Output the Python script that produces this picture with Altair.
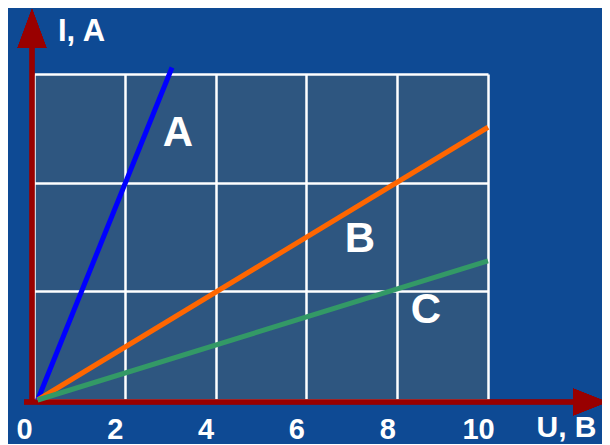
import altair as alt
import pandas as pd

# Data (U in volts, I in amperes)
series = ["A", "A", "B", "B", "C", "C"]
u_vals = [0.08, 3.04, 0.08, 10.0, 0.08, 10.0]
i_vals = [0.0, 3.06, 0.0, 2.51, 0.0, 1.28]

label_names = ["A", "B", "C"]
label_u = [3.17, 7.18, 8.63]
label_i = [2.46, 1.48, 0.83]

x_ticks = [0, 2, 4, 6, 8, 10]
y_grid = [0, 1, 2, 3]

line_colors = ["#0000ff", "#ff6600", "#339966"]

lines_df = pd.DataFrame({"series": series, "U": u_vals, "I": i_vals})
labels_df = pd.DataFrame({"name": label_names, "U": label_u, "I": label_i})

W, H = 454, 326
FONT = "Liberation Sans"
RED = "#990000"

xscale = alt.Scale(domain=[0, 10], nice=False, zero=False)
yscale = alt.Scale(domain=[0, 3], nice=False, zero=False)

x_axis = alt.Axis(
    values=x_ticks, grid=True, gridColor="white", gridWidth=2.5, gridOpacity=1,
    ticks=False, tickSize=0, domain=False,
    labelColor="white", labelFont=FONT, labelFontSize=29, labelFontWeight="bold",
    labelBaseline="alphabetic", labelPadding=38, labelOffset=-10,
    labelFlush=False, labelOverlap=False,
    title="U, B", titleColor="white", titleFont=FONT, titleFontSize=30,
    titleFontWeight="bold", titleX=532, titleY=27, titleAlign="center",
    titleBaseline="middle", titleAngle=0,
)
y_axis = alt.Axis(
    values=y_grid, grid=True, gridColor="white", gridWidth=2.5, gridOpacity=1,
    ticks=False, tickSize=0, domain=False, labels=False,
    title="I, A", titleColor="white", titleFont=FONT, titleFontSize=31,
    titleFontWeight="bold", titleX=47, titleY=-43, titleAlign="center",
    titleBaseline="middle", titleAngle=0,
)

lines = alt.Chart(lines_df).mark_line(strokeWidth=5, clip=False).encode(
    x=alt.X("U:Q", scale=xscale, axis=x_axis),
    y=alt.Y("I:Q", scale=yscale, axis=y_axis),
    color=alt.Color("series:N", scale=alt.Scale(domain=label_names, range=line_colors), legend=None),
    detail="series:N",
)

labels = alt.Chart(labels_df).mark_text(
    font=FONT, fontSize=42, fontWeight="bold", color="white",
    align="center", baseline="middle",
).encode(
    x=alt.X("U:Q", scale=xscale),
    y=alt.Y("I:Q", scale=yscale),
    text="name:N",
)

# Decorative red axes with arrowheads
v_axis_line = alt.Chart(lines_df).mark_rule(color=RED, strokeWidth=4.5).encode(
    x=alt.value(-2), y=alt.value(-28), y2=alt.value(H + 4)
)
h_axis_line = alt.Chart(lines_df).mark_rule(color=RED, strokeWidth=4.5).encode(
    x=alt.value(-10), x2=alt.value(542), y=alt.value(H + 2)
)
v_arrow = alt.Chart(lines_df).mark_point(
    shape="M-0.74,1L0,-1L0.74,1Z", filled=True, color=RED, opacity=1, size=1521
).encode(x=alt.value(-2), y=alt.value(-45.5))
h_arrow = alt.Chart(lines_df).mark_point(
    shape="M-1,-0.8L1,0L-1,0.8Z", filled=True, color=RED, opacity=1, size=1156
).encode(x=alt.value(556), y=alt.value(H + 2))

chart = alt.layer(
    v_axis_line, h_axis_line, lines, labels, v_arrow, h_arrow
).properties(
    width=W, height=H,
    autosize=alt.AutoSizeParams(type="none"),
    padding={"left": 26, "top": 66, "right": 114, "bottom": 44},
    background="#0e4a94",
).configure_view(
    fill="#2e5680", stroke=None,
)

chart.save("out.html", embed_options={"renderer": "svg", "actions": False})
